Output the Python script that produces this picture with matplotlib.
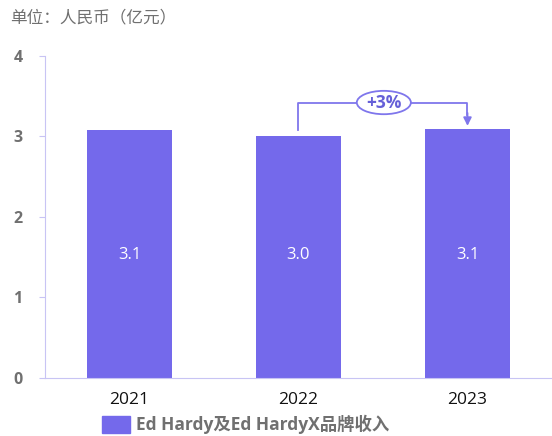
import matplotlib
matplotlib.use('Agg')
import matplotlib.pyplot as plt
from matplotlib.patches import Ellipse, Patch

plt.rcParams['font.family'] = ['Open Sans', 'Noto Sans CJK SC', 'DejaVu Sans']

years = ['2021', '2022', '2023']
revenue = [3.08, 3.00, 3.09]
labels = ['3.1', '3.0', '3.1']
growth_text = '+3%'
unit_text = '单位：人民币（亿元）'
legend_text = 'Ed Hardy及Ed HardyX品牌收入'

bar_color = '#7469EB'
line_color = '#7F76EC'
gray = '#707070'

fig = plt.figure(figsize=(5.52, 4.36), dpi=100)
ax = fig.add_axes([0.0815, 0.133, 0.9185, 0.739])

x = list(range(len(years)))
ax.bar(x, revenue, width=0.5, color=bar_color)
for xi, lab in zip(x, labels):
    ax.text(xi, 1.53, lab, color='white', ha='center', va='center', fontsize=12)

ax.set_xlim(-0.5, 2.5)
ax.set_ylim(0, 4)
ax.set_yticks([0, 1, 2, 3, 4])
ax.set_yticklabels(['0', '1', '2', '3', '4'], fontweight='bold', color=gray, fontsize=11.5)
ax.set_xticks(x)
ax.set_xticklabels(years, fontsize=12.5, color='#111111')
ax.tick_params(axis='x', length=0, pad=10)
ax.tick_params(axis='y', length=4, color='#C8C4F4', pad=12)
for s in ['top', 'right']:
    ax.spines[s].set_visible(False)
ax.spines['left'].set_color('#C8C4F4')
ax.spines['bottom'].set_color('#C8C4F4')

# growth bracket from 2022 to 2023
y_top = 3.42
ax.plot([1, 1, 2, 2], [revenue[1] + 0.08, y_top, y_top, revenue[2] + 0.17],
        color=line_color, lw=1.3, clip_on=False)
ax.annotate('', xy=(2, revenue[2] + 0.04), xytext=(2, revenue[2] + 0.2),
            arrowprops=dict(arrowstyle='-|>', color=line_color, lw=1.3,
                            mutation_scale=12, shrinkA=0, shrinkB=0))
ax.add_patch(Ellipse((1.505, y_top), 0.32, 0.29, facecolor='white',
                     edgecolor=line_color, lw=1.3, zorder=3))
ax.text(1.505, y_top, growth_text, ha='center', va='center', fontsize=12.5,
        fontweight='bold', color='#6660D8', zorder=4)

fig.text(0.018, 0.957, unit_text, fontsize=12, color=gray, va='center')

handle = Patch(color=bar_color)
fig.legend([handle], [legend_text], loc='center', bbox_to_anchor=(0.445, 0.026),
           frameon=False, handlelength=1.6, handleheight=1.2, handletextpad=0.35,
           prop={'size': 12.5, 'weight': 'bold'}, labelcolor=gray)

fig.savefig('out.png', dpi=100)
